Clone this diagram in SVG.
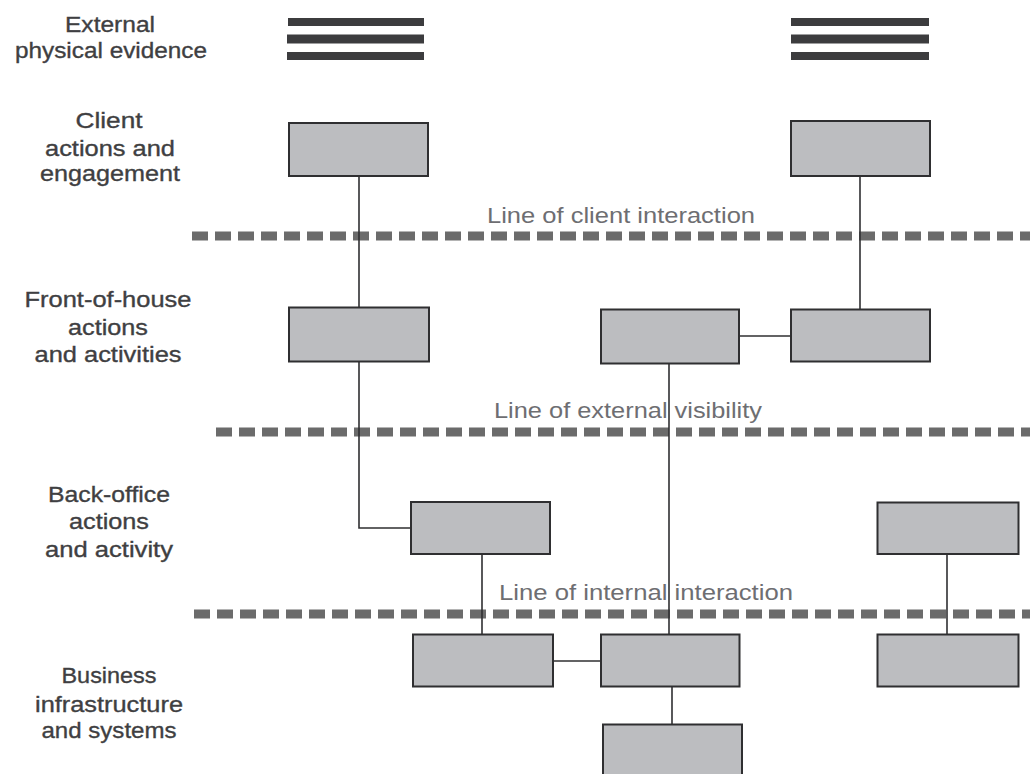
<svg xmlns="http://www.w3.org/2000/svg" width="1030" height="774" viewBox="0 0 1030 774">
<style>
.lbl{font-family:"Liberation Sans",Arial,sans-serif;font-size:22px;fill:#3f3f42;stroke:#3f3f42;stroke-width:0.35;text-anchor:middle}
.ln{font-family:"Liberation Sans",Arial,sans-serif;font-size:22px;fill:#6e6e72;text-anchor:start}
.box{fill:#bcbdc0;stroke:#2f2f31;stroke-width:2}
.bar{fill:#3c3c3e}
.dash{stroke:#6b6b6b;stroke-width:9;stroke-dasharray:16 7;fill:none}
.con{stroke:#2f2f31;stroke-width:1.6;fill:none}
</style>
<rect width="1030" height="774" fill="#ffffff"/>
<g id="row-labels">
<text class="lbl" x="110" y="32" textLength="90" lengthAdjust="spacingAndGlyphs">External</text>
<text class="lbl" x="111" y="58" textLength="192" lengthAdjust="spacingAndGlyphs">physical evidence</text>
<text class="lbl" x="109" y="128" textLength="67" lengthAdjust="spacingAndGlyphs">Client</text>
<text class="lbl" x="110" y="156" textLength="130" lengthAdjust="spacingAndGlyphs">actions and</text>
<text class="lbl" x="110" y="181" textLength="140" lengthAdjust="spacingAndGlyphs">engagement</text>
<text class="lbl" x="108" y="307" textLength="167" lengthAdjust="spacingAndGlyphs">Front-of-house</text>
<text class="lbl" x="108" y="335" textLength="80" lengthAdjust="spacingAndGlyphs">actions</text>
<text class="lbl" x="108" y="362" textLength="147" lengthAdjust="spacingAndGlyphs">and activities</text>
<text class="lbl" x="109" y="502" textLength="122" lengthAdjust="spacingAndGlyphs">Back-office</text>
<text class="lbl" x="109" y="529" textLength="80" lengthAdjust="spacingAndGlyphs">actions</text>
<text class="lbl" x="109" y="557" textLength="128" lengthAdjust="spacingAndGlyphs">and activity</text>
<text class="lbl" x="109" y="683" textLength="95" lengthAdjust="spacingAndGlyphs">Business</text>
<text class="lbl" x="109" y="712" textLength="148" lengthAdjust="spacingAndGlyphs">infrastructure</text>
<text class="lbl" x="109" y="738" textLength="135" lengthAdjust="spacingAndGlyphs">and systems</text>
</g>
<g id="lines">
<line class="dash" x1="192" y1="236" x2="1030" y2="236"/>
<line class="dash" x1="216" y1="432" x2="1030" y2="432"/>
<line class="dash" x1="194" y1="614" x2="1030" y2="614"/>
<text class="ln" x="487" y="223" textLength="268" lengthAdjust="spacingAndGlyphs">Line of client interaction</text>
<text class="ln" x="494" y="418" textLength="268" lengthAdjust="spacingAndGlyphs">Line of external visibility</text>
<text class="ln" x="499" y="600" textLength="294" lengthAdjust="spacingAndGlyphs">Line of internal interaction</text>
</g>
<g id="connectors">
<line class="con" x1="359" y1="176" x2="359" y2="307"/>
<polyline class="con" points="359,362 359,528 411,528"/>
<line class="con" x1="860" y1="176" x2="860" y2="309"/>
<line class="con" x1="739" y1="336" x2="791" y2="336"/>
<line class="con" x1="669" y1="363" x2="669" y2="634"/>
<line class="con" x1="482" y1="554" x2="482" y2="634"/>
<line class="con" x1="553" y1="661" x2="601" y2="661"/>
<line class="con" x1="672" y1="687" x2="672" y2="724"/>
<line class="con" x1="947" y1="554" x2="947" y2="634"/>
</g>
<g id="evidence-left">
<rect class="bar" x="288" y="18" width="136" height="8"/>
<rect class="bar" x="287" y="34.5" width="137" height="9"/>
<rect class="bar" x="287" y="52" width="137" height="8"/>
</g>
<g id="evidence-right">
<rect class="bar" x="791" y="18" width="138" height="8"/>
<rect class="bar" x="791" y="34.5" width="138" height="9"/>
<rect class="bar" x="791" y="52" width="138" height="8"/>
</g>
<g id="client-left"><rect class="box" x="289" y="123" width="139" height="53"/></g>
<g id="client-right"><rect class="box" x="791" y="121" width="139" height="55"/></g>
<g id="front-left"><rect class="box" x="289" y="307.5" width="140" height="54"/></g>
<g id="front-middle"><rect class="box" x="601" y="309.5" width="138" height="54"/></g>
<g id="front-right"><rect class="box" x="791" y="309.5" width="139" height="52"/></g>
<g id="back-left"><rect class="box" x="411" y="502" width="139" height="52"/></g>
<g id="back-right"><rect class="box" x="877.5" y="502.5" width="141" height="51.5"/></g>
<g id="infra-left"><rect class="box" x="413" y="634.5" width="140" height="52"/></g>
<g id="infra-middle"><rect class="box" x="601" y="634.5" width="138.5" height="52"/></g>
<g id="infra-right"><rect class="box" x="877.5" y="634.5" width="141" height="52"/></g>
<g id="infra-bottom"><rect class="box" x="603" y="724.5" width="139" height="60"/></g>
</svg>
